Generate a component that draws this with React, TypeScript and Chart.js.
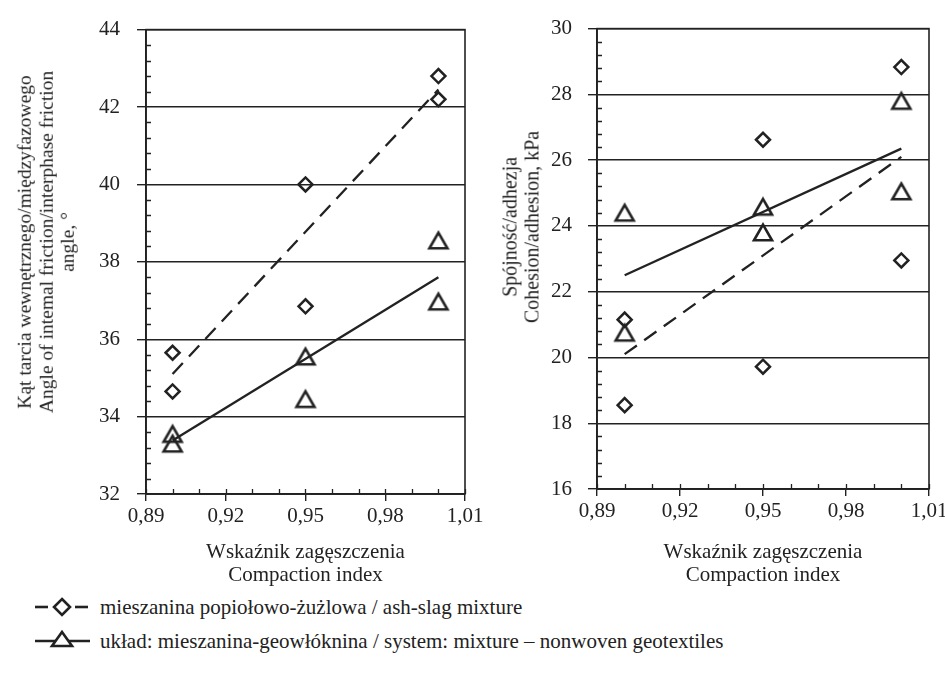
import React, { useEffect, useRef } from 'react';
import { Chart, registerables } from 'chart.js';

Chart.register(...registerables);

// ---------- data ----------
const xTickValues = [0.89, 0.92, 0.95, 0.98, 1.01];
const xTickLabels = ['0,89', '0,92', '0,95', '0,98', '1,01'];
const leftYTicks = [32, 34, 36, 38, 40, 42, 44];
const rightYTicks = [16, 18, 20, 22, 24, 26, 28, 30];

const compaction = [0.9, 0.9, 0.95, 0.95, 1.0, 1.0];
const frictionAsh = [35.65, 34.65, 40.0, 36.85, 42.8, 42.2];
const frictionSystem = [33.55, 33.3, 35.55, 34.45, 38.55, 36.97];
const cohesionAsh = [21.15, 18.55, 26.62, 19.72, 28.83, 22.95];
const cohesionSystem = [24.4, 20.75, 24.58, 23.8, 27.8, 25.05];

const trendX = [0.9, 1.0];
const frictionAshTrend = [35.1, 42.45];
const frictionSystemTrend = [33.38, 37.6];
const cohesionAshTrend = [20.1, 26.1];
const cohesionSystemTrend = [22.5, 26.35];

const legendAsh = 'mieszanina popiołowo-żużlowa / ash-slag mixture';
const legendSystem = 'układ: mieszanina-geowłóknina / system: mixture – nonwoven geotextiles';

// ---------- style ----------
const INK = '#222222';
const FONT = "'Liberation Serif', 'Times New Roman', serif";
const DASH = [15, 9];

function makeTriangle(side: number, lw: number) {
  const h = (side * Math.sqrt(3)) / 2;
  const pad = lw + 1;
  const c = document.createElement('canvas');
  c.width = Math.ceil(side + 2 * pad);
  c.height = Math.ceil(h + 2 * pad);
  const ctx = c.getContext('2d')!;
  const cx = c.width / 2;
  const top = (c.height - h) / 2;
  ctx.beginPath();
  ctx.moveTo(cx, top);
  ctx.lineTo(cx + side / 2, top + h);
  ctx.lineTo(cx - side / 2, top + h);
  ctx.closePath();
  ctx.lineWidth = lw;
  ctx.lineJoin = 'miter';
  ctx.strokeStyle = INK;
  ctx.stroke();
  return c;
}

const framePlugin = {
  id: 'frame',
  afterDraw(chart: any) {
    const { ctx, chartArea: a, scales } = chart;
    const xs = scales.x;
    const ys = scales.y;
    ctx.save();
    ctx.strokeStyle = INK;
    ctx.lineWidth = 1.6;
    ctx.strokeRect(a.left, a.top, a.right - a.left, a.bottom - a.top);
    ctx.lineWidth = 1.3;
    ctx.beginPath();
    const ny = Math.round((ys.max - ys.min) / 0.4);
    for (let i = 1; i < ny; i++) {
      if (i % 5 === 0) continue;
      const py = Math.round(ys.getPixelForValue(ys.min + i * 0.4)) + 0.5;
      ctx.moveTo(a.left, py);
      ctx.lineTo(a.left + 5, py);
    }
    const nx = Math.round((xs.max - xs.min) / 0.01);
    for (let i = 0; i <= nx; i++) {
      const px = Math.round(xs.getPixelForValue(xs.min + i * 0.01)) + 0.5;
      ctx.moveTo(px, a.bottom);
      ctx.lineTo(px, a.bottom - 5);
    }
    ctx.stroke();
    ctx.restore();
  },
};

function buildConfig(p: any) {
  const tri = makeTriangle(18, 2.6);
  const pts = (ys: number[]) => compaction.map((x, i) => ({ x, y: ys[i] }));
  const line = (ys: number[]) => trendX.map((x, i) => ({ x, y: ys[i] }));
  return {
    type: 'scatter',
    data: {
      datasets: [
        {
          label: legendAsh,
          data: pts(p.ash),
          pointStyle: 'rectRot',
          pointRadius: 7,
          borderWidth: 2.5,
          borderColor: INK,
          backgroundColor: 'rgba(0,0,0,0)',
        },
        {
          label: legendSystem,
          data: pts(p.sys),
          pointStyle: tri,
          pointRadius: 10,
          borderColor: INK,
          backgroundColor: 'rgba(0,0,0,0)',
        },
        {
          label: 'trend ash',
          data: line(p.ashTrend),
          showLine: true,
          pointRadius: 0,
          borderColor: INK,
          borderWidth: 2.3,
          borderDash: DASH,
        },
        {
          label: 'trend system',
          data: line(p.sysTrend),
          showLine: true,
          pointRadius: 0,
          borderColor: INK,
          borderWidth: 2.3,
        },
      ],
    },
    options: {
      responsive: false,
      animation: false,
      events: [],
      layout: { padding: { top: p.padTop, right: p.padRight, left: 0, bottom: 0 } },
      plugins: { legend: { display: false }, tooltip: { enabled: false } },
      scales: {
        x: {
          type: 'linear',
          min: 0.89,
          max: 1.01,
          afterBuildTicks: (s: any) => {
            s.ticks = xTickValues.map((v) => ({ value: v }));
          },
          afterFit: (s: any) => {
            s.height = p.xHeight;
          },
          ticks: {
            callback: (_v: any, i: number) => xTickLabels[i],
            font: { family: FONT, size: 21 },
            color: INK,
            padding: 3,
            autoSkip: false,
            maxRotation: 0,
          },
          grid: { drawOnChartArea: false, tickLength: 7, color: INK, lineWidth: 1.4 },
          border: { color: INK, width: 1.8 },
        },
        y: {
          type: 'linear',
          min: p.yTicks[0],
          max: p.yTicks[p.yTicks.length - 1],
          afterBuildTicks: (s: any) => {
            s.ticks = p.yTicks.map((v: number) => ({ value: v }));
          },
          afterFit: (s: any) => {
            s.width = p.yWidth;
          },
          ticks: {
            font: { family: FONT, size: 21 },
            color: INK,
            padding: p.yPad,
            autoSkip: false,
          },
          grid: { color: INK, lineWidth: 1.4, tickLength: 9 },
          border: { color: INK, width: 1.8 },
        },
      },
    },
    plugins: [framePlugin],
  };
}

function ChartCanvas(props: { cfg: any; left: number; top: number; width: number; height: number }) {
  const ref = useRef<HTMLCanvasElement>(null);
  useEffect(() => {
    if (!ref.current) return;
    const chart = new Chart(ref.current, buildConfig(props.cfg) as any);
    return () => chart.destroy();
  }, []);
  return (
    <canvas
      ref={ref}
      width={props.width}
      height={props.height}
      style={{ position: 'absolute', left: props.left, top: props.top, width: props.width, height: props.height }}
    />
  );
}

const textBase: React.CSSProperties = {
  position: 'absolute',
  fontFamily: FONT,
  fontSize: 21,
  color: INK,
  whiteSpace: 'nowrap',
};

function YTitle(props: { lines: string[]; cx: number; cy: number; size: number }) {
  return (
    <div
      style={{
        ...textBase,
        fontSize: props.size,
        left: props.cx,
        top: props.cy,
        lineHeight: '21.5px',
        textAlign: 'center',
        transform: 'translate(-50%, -50%) rotate(-90deg)',
      }}
    >
      {props.lines.map((l, i) => (
        <div key={i}>{l}</div>
      ))}
    </div>
  );
}

function XTitle(props: { lines: string[]; cx: number; top: number }) {
  return (
    <div
      style={{
        ...textBase,
        left: props.cx,
        top: props.top,
        lineHeight: '22.5px',
        textAlign: 'center',
        transform: 'translateX(-50%)',
      }}
    >
      {props.lines.map((l, i) => (
        <div key={i}>{l}</div>
      ))}
    </div>
  );
}

export default function App() {
  useEffect(() => {
    document.body.style.margin = '0';
  }, []);
  const leftCfg = {
    ash: frictionAsh,
    sys: frictionSystem,
    ashTrend: frictionAshTrend,
    sysTrend: frictionSystemTrend,
    yTicks: leftYTicks,
    yWidth: 146,
    yPad: 17,
    padTop: 22,
    padRight: 35,
    xHeight: 46,
  };
  const rightCfg = {
    ash: cohesionAsh,
    sys: cohesionSystem,
    ashTrend: cohesionAshTrend,
    sysTrend: cohesionSystemTrend,
    yTicks: rightYTicks,
    yWidth: 127,
    yPad: 16,
    padTop: 22,
    padRight: 41,
    xHeight: 51,
  };
  return (
    <div style={{ position: 'fixed', left: 0, top: 0, width: 945, height: 685, overflow: 'hidden', background: '#fff' }}>
      <ChartCanvas cfg={leftCfg} left={0} top={0} width={500} height={540} />
      <ChartCanvas cfg={rightCfg} left={470} top={0} width={500} height={540} />
      <YTitle
        lines={['Kąt tarcia wewnętrznego/międzyfazowego', 'Angle of intemal friction/interphase friction', 'angle, °']}
        cx={46}
        cy={242}
        size={19.5}
      />
      <YTitle lines={['Spójność/adhezja', 'Cohesion/adhesion, kPa']} cx={520.5} cy={227} size={20} />
      <XTitle lines={['Wskaźnik zagęszczenia', 'Compaction index']} cx={305.5} top={540} />
      <XTitle lines={['Wskaźnik zagęszczenia', 'Compaction index']} cx={763} top={540} />
      <svg style={{ position: 'absolute', left: 0, top: 580 }} width={100} height={80}>
        <g stroke={INK} strokeWidth={2.6} fill="none">
          <line x1={35} y1={27} x2={48} y2={27} />
          <polygon points="62,19 70,27 62,35 54,27" strokeLinejoin="miter" />
          <line x1={75} y1={27} x2={88} y2={27} />
          <line x1={35} y1={61} x2={90} y2={61} />
          <polygon points="62,52 72,66 52,66" fill="#fff" strokeLinejoin="miter" />
        </g>
      </svg>
      <div style={{ ...textBase, left: 100, top: 595, lineHeight: '24px' }}>{legendAsh}</div>
      <div style={{ ...textBase, left: 100, top: 629, lineHeight: '24px' }}>{legendSystem}</div>
    </div>
  );
}
